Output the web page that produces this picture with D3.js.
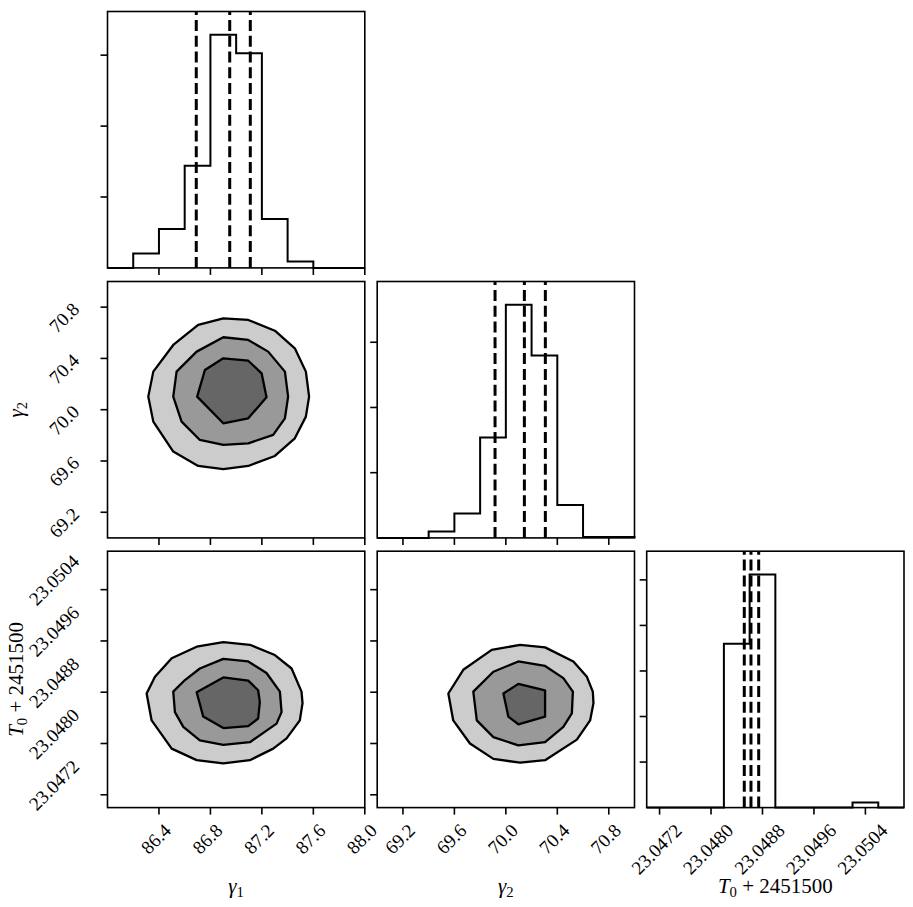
<!DOCTYPE html>
<html>
<head>
<meta charset="utf-8">
<script src="https://cdn.jsdelivr.net/npm/d3@7"></script>
<style>
  body { margin: 0; background: #fff; }
  svg text { font-family: "Liberation Serif", "DejaVu Serif", serif; fill: #000; }
</style>
</head>
<body>
<svg id="chart" width="913" height="907"></svg>
<script>
// Corner plot: 1D histograms on the diagonal, filled 2D contours below it

// parameter ranges and ticks
const g1Range = [86.0, 88.0];
const g2Range = [69.0, 71.0];
const t0Range = [23.0470, 23.0510];
const g1Ticks = [86.4, 86.8, 87.2, 87.6, 88.0];
const g2Ticks = [69.2, 69.6, 70.0, 70.4, 70.8];
const t0Ticks = [23.0472, 23.0480, 23.0488, 23.0496, 23.0504];
const g1TickLabels = ["86.4", "86.8", "87.2", "87.6", "88.0"];
const g2TickLabels = ["69.2", "69.6", "70.0", "70.4", "70.8"];
const t0TickLabels = ["23.0472", "23.0480", "23.0488", "23.0496", "23.0504"];

// histogram counts (10 equal bins over each range)
const g1Counts = [0, 203, 549, 1442, 3287, 3028, 690, 90, 0, 0];
const g2Counts = [0, 0, 98, 374, 1538, 3574, 2798, 505, 15, 15];
const t0Counts = [0, 0, 0, 3596, 5118, 0, 0, 0, 110, 0];
const g1CountTicks = [1000, 2000, 3000];
const g2CountTicks = [1000, 2000, 3000];
const t0CountTicks = [1000, 2000, 3000, 4000, 5000];

// quantiles (dashed lines)
const g1Quantiles = [86.69, 86.95, 87.11];
const g2Quantiles = [69.916, 70.144, 70.307];
const t0Quantiles = [23.048517, 23.048621, 23.048741];

// axis labels: base symbol, subscript, rest
const labelBase = ["γ", "γ", "T"];
const labelSub = ["1", "2", "0"];
const labelRest = ["", "", " + 2451500"];

// contour polygons [x, y] in data units, outer -> inner
const g1g2Outer = [[86.900,70.713],[87.094,70.700],[87.301,70.616],[87.456,70.479],[87.542,70.297],[87.567,70.102],[87.542,69.946],[87.456,69.777],[87.301,69.639],[87.094,69.561],[86.900,69.536],[86.705,69.561],[86.511,69.673],[86.356,69.907],[86.317,70.102],[86.356,70.297],[86.511,70.505],[86.705,70.661]];
const g1g2Middle = [[86.900,70.565],[87.094,70.544],[87.249,70.453],[87.379,70.297],[87.404,70.102],[87.379,69.933],[87.288,69.803],[87.094,69.738],[86.900,69.725],[86.718,69.764],[86.576,69.907],[86.511,70.102],[86.537,70.297],[86.693,70.453]];
const g1g2Inner = [[86.900,70.401],[87.094,70.382],[87.198,70.284],[87.236,70.097],[87.094,69.933],[86.900,69.894],[86.697,70.102],[86.757,70.310]];

const g1t0Outer = [[86.900,23.04958],[87.107,23.04954],[87.301,23.04938],[87.431,23.04917],[87.508,23.04881],[87.516,23.04863],[87.495,23.04836],[87.392,23.04808],[87.288,23.04792],[87.107,23.04774],[86.900,23.04769],[86.693,23.04774],[86.499,23.04792],[86.343,23.04836],[86.304,23.04878],[86.369,23.04904],[86.499,23.04933],[86.693,23.04951]];
const g1t0Middle = [[86.900,23.04932],[87.094,23.04928],[87.236,23.04910],[87.340,23.04881],[87.353,23.04849],[87.314,23.04831],[87.107,23.04802],[86.900,23.04798],[86.718,23.04805],[86.589,23.04826],[86.524,23.04849],[86.511,23.04881],[86.602,23.04899],[86.718,23.04917]];
const g1t0Inner = [[86.900,23.04903],[87.094,23.04898],[87.171,23.04883],[87.184,23.04865],[87.171,23.04839],[87.094,23.04827],[86.900,23.04824],[86.744,23.04842],[86.693,23.04880]];

const g2t0Outer = [[70.111,23.04954],[70.305,23.04950],[70.525,23.04928],[70.630,23.04904],[70.676,23.04881],[70.681,23.04863],[70.655,23.04836],[70.552,23.04806],[70.305,23.04774],[70.111,23.04770],[69.903,23.04776],[69.721,23.04800],[69.591,23.04836],[69.553,23.04878],[69.669,23.04915],[69.890,23.04946]];
const g2t0Middle = [[70.097,23.04928],[70.305,23.04921],[70.447,23.04902],[70.521,23.04881],[70.513,23.04847],[70.447,23.04826],[70.305,23.04802],[70.097,23.04797],[69.903,23.04810],[69.774,23.04836],[69.747,23.04881],[69.903,23.04912]];
const g2t0Inner = [[70.097,23.04893],[70.305,23.04883],[70.305,23.04842],[70.097,23.04830],[70.019,23.04842],[69.981,23.04878]];

const contourFills = ["#cccccc", "#999999", "#666666"];

// tables built from the arrays above
const ranges = [g1Range, g2Range, t0Range];
const ticks = [g1Ticks, g2Ticks, t0Ticks];
const tickLabels = [g1TickLabels, g2TickLabels, t0TickLabels];
const counts = [g1Counts, g2Counts, t0Counts];
const countTicks = [g1CountTicks, g2CountTicks, t0CountTicks];
const quantiles = [g1Quantiles, g2Quantiles, t0Quantiles];
const contours = [
    { xi: 0, yi: 1, polys: [g1g2Outer, g1g2Middle, g1g2Inner] },
    { xi: 0, yi: 2, polys: [g1t0Outer, g1t0Middle, g1t0Inner] },
    { xi: 1, yi: 2, polys: [g2t0Outer, g2t0Middle, g2t0Inner] }
];

// layout
const colX = [107.5, 377.2, 646.7];
const rowY = [11.5, 281.5, 551.2];
const sizeX = 257.3, sizeY = 256.4;
const tickLen = 7, fs = 19, labelFs = 21;

const svg = d3.select("#chart");

const xScales = ranges.map((r, i) => d3.scaleLinear().domain(r).range([colX[i], colX[i] + sizeX]));

// rotated tick labels, placed by the visible box of the rotated text
function xTickLabel(str, cx, top) {
    const t = svg.append("text").attr("font-size", fs).text(str);
    const w = t.node().getComputedTextLength(), c = 0.68 * fs;
    const tx = cx - 0.3536 * (w - c), ty = top + 0.7071 * (w + c);
    t.attr("transform", `translate(${tx},${ty}) rotate(-45)`);
}
function yTickLabel(str, right, tickY) {
    const t = svg.append("text").attr("font-size", fs).text(str);
    const w = t.node().getComputedTextLength(), c = 0.68 * fs;
    // longer labels sit higher relative to their tick (as matplotlib does)
    const cy = tickY + 34 - 0.7071 * w;
    const tx = right - 0.7071 * w, ty = cy + 0.3536 * (w + c);
    t.attr("transform", `translate(${tx},${ty}) rotate(-45)`);
}
function mathLabel(t, i) {
    t.append("tspan").attr("font-style", "italic").text(labelBase[i]);
    t.append("tspan").attr("font-size", "70%").attr("dy", 4).text(labelSub[i]);
    if (labelRest[i]) t.append("tspan").attr("dy", -4).text(labelRest[i]);
}

function drawXTicks(i, bottom, withLabels) {
    const x = xScales[i];
    ticks[i].forEach((v, k) => {
        svg.append("line")
            .attr("x1", x(v)).attr("x2", x(v))
            .attr("y1", bottom).attr("y2", bottom + tickLen)
            .attr("stroke", "#000").attr("stroke-width", 1.6);
        if (withLabels) xTickLabel(tickLabels[i][k], x(v) - 3, bottom + 15);
    });
}
function drawYTicks(left, scale, values, labels) {
    values.forEach((v, k) => {
        svg.append("line")
            .attr("x1", left - tickLen).attr("x2", left)
            .attr("y1", scale(v)).attr("y2", scale(v))
            .attr("stroke", "#000").attr("stroke-width", 1.6);
        if (labels) yTickLabel(labels[k], left - 27, scale(v));
    });
}
function drawFrame(col, row) {
    svg.append("rect")
        .attr("x", colX[col]).attr("y", rowY[row])
        .attr("width", sizeX).attr("height", sizeY)
        .attr("fill", "none").attr("stroke", "#000").attr("stroke-width", 1.6);
}

// diagonal histograms
counts.forEach((c, i) => {
    const x = xScales[i];
    const bottom = rowY[i] + sizeY;
    const y = d3.scaleLinear().domain([0, 1.1 * d3.max(c)]).range([bottom, rowY[i]]);
    const edges = d3.range(c.length + 1).map(k => ranges[i][0] + k * (ranges[i][1] - ranges[i][0]) / c.length);
    const pts = [[edges[0], 0]];
    c.forEach((v, k) => { pts.push([edges[k], v]); pts.push([edges[k + 1], v]); });
    pts.push([edges[c.length], 0]);

    svg.append("path")
        .attr("d", d3.line().x(d => x(d[0])).y(d => y(d[1]))(pts))
        .attr("fill", "none").attr("stroke", "#000").attr("stroke-width", 2)
        .attr("stroke-linejoin", "miter");

    quantiles[i].forEach(q => {
        svg.append("line")
            .attr("x1", x(q)).attr("x2", x(q))
            .attr("y1", bottom).attr("y2", rowY[i])
            .attr("stroke", "#000").attr("stroke-width", 3)
            .attr("stroke-dasharray", "11 4.8");
    });

    drawFrame(i, i);
    drawXTicks(i, bottom, i === 2);
    drawYTicks(colX[i], y, countTicks[i], null);
});

// 2D contour panels
contours.forEach(p => {
    const x = xScales[p.xi];
    const row = p.yi;
    const y = d3.scaleLinear().domain(ranges[p.yi]).range([rowY[row] + sizeY, rowY[row]]);
    const line = d3.line().x(d => x(d[0])).y(d => y(d[1])).curve(d3.curveLinearClosed);

    p.polys.forEach((poly, k) => {
        svg.append("path")
            .attr("d", line(poly))
            .attr("fill", contourFills[k])
            .attr("stroke", "#000").attr("stroke-width", 2.3)
            .attr("stroke-linejoin", "round");
    });

    drawFrame(p.xi, row);
    drawXTicks(p.xi, rowY[row] + sizeY, row === 2);
    drawYTicks(colX[p.xi], y, ticks[p.yi], p.xi === 0 ? tickLabels[p.yi] : null);
});

// axis labels
[0, 1, 2].forEach(i => {
    const t = svg.append("text")
        .attr("x", colX[i] + sizeX / 2).attr("y", 893)
        .attr("text-anchor", "middle").attr("font-size", labelFs);
    mathLabel(t, i);
});
[1, 2].forEach(i => {
    const cy = rowY[i] + sizeY / 2;
    const t = svg.append("text")
        .attr("transform", `translate(23,${cy}) rotate(-90)`)
        .attr("text-anchor", "middle").attr("font-size", labelFs);
    mathLabel(t, i);
});
</script>
</body>
</html>
